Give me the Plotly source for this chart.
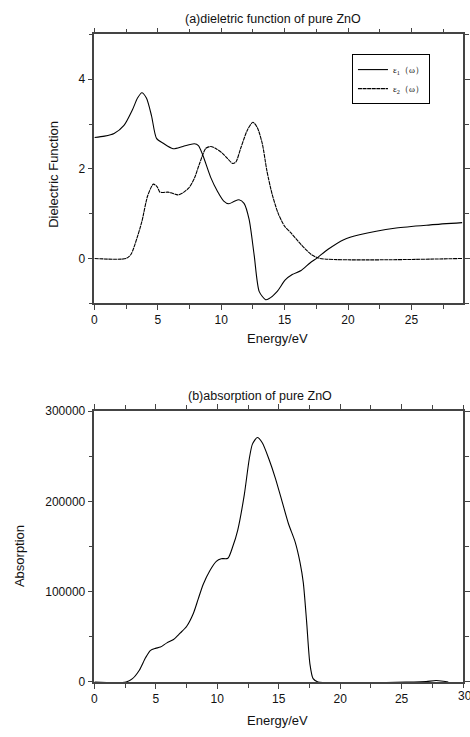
import plotly.graph_objects as go

W, H = 470, 737

# ---- data ----
eps1_x = [0, 0.8, 1.55, 2.33, 3.0, 3.4, 3.74, 4.1, 4.5, 4.9, 5.43, 6.2, 6.98, 7.88, 8.2,
          8.53, 9.17, 9.7, 10.2, 10.6, 11.0, 11.4, 11.8, 12.2, 12.6, 13.0, 13.5, 13.75,
          14.4, 15.05, 15.6, 16.3, 17.0, 17.6, 18.4, 19.66, 20.9, 23.8, 26.5, 29.0]
eps1_y = [2.70, 2.73, 2.79, 2.97, 3.32, 3.58, 3.70, 3.58, 3.19, 2.68, 2.57, 2.45, 2.50,
          2.56, 2.52, 2.32, 1.81, 1.50, 1.28, 1.22, 1.27, 1.31, 1.23, 0.87, 0.07, -0.74,
          -0.92, -0.90, -0.74, -0.48, -0.36, -0.27, -0.10, 0.02, 0.20, 0.42, 0.53, 0.68,
          0.75, 0.80]

eps2_x = [0, 2.5, 2.9, 3.35, 3.74, 4.2, 4.65, 4.95, 5.17, 5.81, 6.1, 6.59, 7.0, 7.49, 7.9,
          8.27, 8.79, 9.17, 9.6, 10.08, 10.5, 10.9, 11.15, 11.55, 12.07, 12.5, 12.85,
          13.25, 13.6, 14.0, 14.5, 15.0, 15.5, 16.3, 17.1, 17.8, 29.0]
eps2_y = [0, 0, 0.1, 0.45, 0.82, 1.40, 1.66, 1.60, 1.48, 1.48, 1.46, 1.42, 1.47, 1.59,
          1.80, 2.10, 2.46, 2.50, 2.45, 2.35, 2.23, 2.12, 2.15, 2.47, 2.87, 3.04, 2.92,
          2.55, 1.96, 1.45, 1.00, 0.72, 0.57, 0.31, 0.09, 0, 0]

abs_x = [0, 2.57, 3.1, 3.64, 4.17, 4.57, 4.97, 5.37, 5.9, 6.44, 6.97, 7.5, 8.05, 8.45, 8.85,
         9.38, 9.92, 10.32, 10.86, 11.26, 11.66, 12.2, 12.6, 12.86, 13.26, 13.66, 14.2,
         14.73, 15.27, 15.8, 16.34, 16.74, 17.0, 17.27, 17.54, 17.8, 18.2, 26.0, 27.0,
         27.8, 28.4, 28.8]
abs_y = [0, 0, 3600, 12600, 27000, 35000, 37200, 38600, 43300, 47000, 54000, 61400, 75800,
         92000, 108000, 123000, 133600, 136500, 137000, 150000, 168000, 207600, 247000,
         263500, 270800, 265000, 247000, 225600, 200000, 175000, 155000, 132000, 110000,
         66800, 19800, 3600, 0, 0, 500, 1500, 800, 0]

x_ticks_a = [0, 5, 10, 15, 20, 25]
y_ticks_a = [0, 2, 4]
x_ticks_b = [0, 5, 10, 15, 20, 25, 30]
y_ticks_b = [0, 100000, 200000, 300000]

title_a = "(a)dieletric function of pure ZnO"
title_b = "(b)absorption of pure ZnO"
xlabel = "Energy/eV"
ylabel_a = "Dielectric Function"
ylabel_b = "Absorption"
name1 = "ε<sub>1</sub>（ω）"
name2 = "ε<sub>2</sub>（ω）"


def px(x):
    return x / W


def py(y):
    return 1 - y / H


FONT = "Liberation Sans, Arial, sans-serif"
AX = "#444"

fig = go.Figure()
fig.add_trace(go.Scatter(x=eps1_x, y=eps1_y, mode="lines", name=name1,
                         line=dict(color="black", width=1.1, shape="spline", smoothing=0.7),
                         xaxis="x", yaxis="y"))
fig.add_trace(go.Scatter(x=eps2_x, y=eps2_y, mode="lines", name=name2,
                         line=dict(color="black", width=1.1, shape="spline", smoothing=0.7,
                                   dash="4px,0.6px"),
                         xaxis="x", yaxis="y"))
fig.add_trace(go.Scatter(x=abs_x, y=abs_y, mode="lines", showlegend=False,
                         line=dict(color="black", width=1.1, shape="spline", smoothing=0.7),
                         xaxis="x2", yaxis="y2"))

common = dict(showline=True, linecolor=AX, linewidth=1.5, mirror="allticks",
              ticks="outside", ticklen=5, tickcolor=AX, tickwidth=1,
              showgrid=False, zeroline=False,
              tickfont=dict(family=FONT, size=12, color="#111"))

fig.update_layout(
    width=W, height=H,
    margin=dict(l=0, r=0, t=0, b=0),
    paper_bgcolor="white", plot_bgcolor="white",
    font=dict(family=FONT, color="#111"),
    xaxis=dict(domain=[px(93), px(468)], range=[0, 29.07], tickvals=x_ticks_a,
               minor=dict(dtick=2.5, tick0=0, ticks="outside", ticklen=4, tickcolor=AX),
               anchor="y", **common),
    yaxis=dict(domain=[py(302), py(28)], range=[-1, 5], tickvals=y_ticks_a,
               minor=dict(dtick=1, tick0=0, ticks="outside", ticklen=4, tickcolor=AX),
               anchor="x", **common),
    xaxis2=dict(domain=[px(93), px(468)], range=[0, 30], tickvals=x_ticks_b[:-1],
                minor=dict(dtick=2.5, tick0=0, ticks="outside", ticklen=4, tickcolor=AX),
                anchor="y2", **common),
    yaxis2=dict(domain=[py(688), py(412)], range=[0, 300000], tickvals=y_ticks_b,
                tickformat="d",
                minor=dict(dtick=50000, tick0=0, ticks="outside", ticklen=4, tickcolor=AX),
                anchor="x2", **common),
    legend=dict(x=px(355), y=py(48), xanchor="left", yanchor="top",
                bordercolor="black", borderwidth=1, bgcolor="white",
                font=dict(family="Liberation Serif, serif", size=9, color="#111"),
                tracegroupgap=0, itemwidth=30),
    showlegend=True,
)

ann = [
    (title_a, 275, 12, 0, 12.5),
    (title_b, 261, 397, 0, 12.5),
    (xlabel, 279, 338, 0, 13),
    (xlabel, 279, 727, 0, 13),
    (ylabel_a, 52, 171, -90, 13),
    (ylabel_b, 17, 560, -90, 13),
]
for text, x, y, ang, size in ann:
    fig.add_annotation(text=text, x=px(x), y=py(y), xref="paper", yref="paper",
                       showarrow=False, textangle=ang, xanchor="center", yanchor="middle",
                       font=dict(family=FONT, size=size, color="#111"))

# last tick label of the lower x axis, partly cut by the page edge as in the reference
fig.add_annotation(text=str(x_ticks_b[-1]), x=x_ticks_b[-1], y=0, xref="x2", yref="y2",
                   yshift=-14, xshift=-7, showarrow=False, xanchor="left", yanchor="middle",
                   font=dict(family=FONT, size=12, color="#111"))

fig.write_html("out.html")
